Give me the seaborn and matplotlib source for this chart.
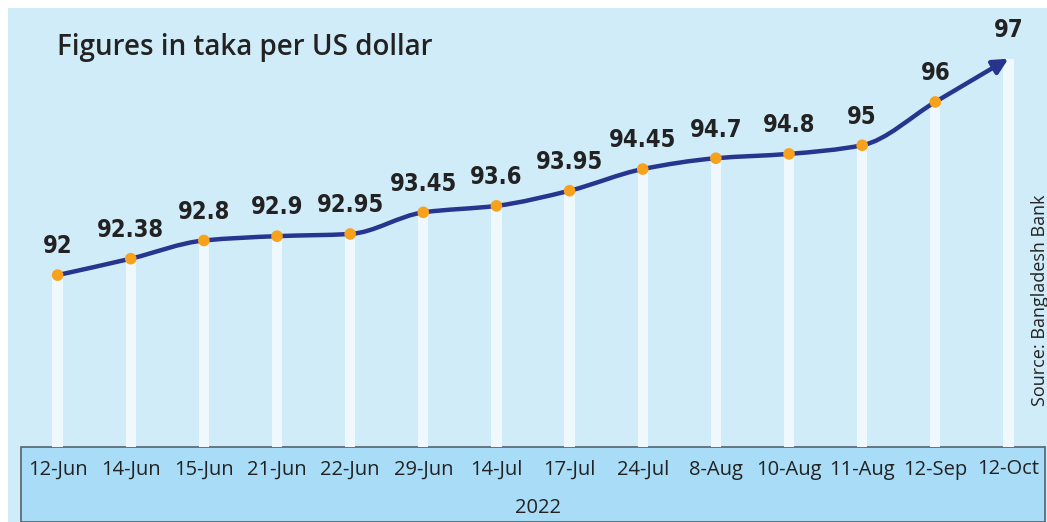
import numpy as np
import pandas as pd
import matplotlib
matplotlib.use("Agg")
import matplotlib.pyplot as plt
from matplotlib.path import Path
from matplotlib.patches import FancyArrowPatch, Rectangle
import seaborn as sns

# ---- data ----
dates = ["12-Jun", "14-Jun", "15-Jun", "21-Jun", "22-Jun", "29-Jun", "14-Jul",
         "17-Jul", "24-Jul", "8-Aug", "10-Aug", "11-Aug", "12-Sep", "12-Oct"]
rates = [92, 92.38, 92.8, 92.9, 92.95, 93.45, 93.6, 93.95, 94.45, 94.7, 94.8,
         95, 96, 97]
year_label = "2022"
title = "Figures in taka per US dollar"
source = "Source: Bangladesh Bank"

BG = "#d1ecf9"
BAND = "#a9dcf6"
BAR = "#eef8fd"
LINE = "#27358f"
DOT = "#f7a11c"
TXT = "#222222"

W, H = 1047, 522
sns.set_theme(style="white")
plt.rcParams["font.family"] = ["Open Sans", "DejaVu Sans"]

fig = plt.figure(figsize=(W / 100, H / 100), dpi=100, facecolor="white")

def fx(px):
    return px / W

def fy(py):
    return 1 - py / H

fig.patches.append(Rectangle((fx(8), 0), 1 - fx(8), fy(8), transform=fig.transFigure,
                             facecolor=BG, edgecolor="none", zorder=-2))
fig.patches.append(Rectangle((fx(21), 0), fx(1045) - fx(21), fy(447), transform=fig.transFigure,
                             facecolor=BAND, edgecolor="#55626c", linewidth=1.2, zorder=-1))

ax = fig.add_axes([fx(21), fy(447), fx(1045) - fx(21), fy(8) - fy(447)])
ax.set_facecolor("none")
ax.set_zorder(2)

df = pd.DataFrame({"date": dates, "rate": rates})

sns.barplot(data=df, x="date", y="rate", color=BAR, width=0.14, saturation=1,
            edgecolor="none", ax=ax, zorder=1)

x = np.arange(len(rates), dtype=float)
y = np.array(rates, dtype=float)
d = np.diff(y) / np.diff(x)
m = np.zeros_like(y)
m[0] = d[0]
m[-1] = d[-1]
for i in range(1, len(y) - 1):
    if d[i - 1] * d[i] <= 0:
        m[i] = 0
    else:
        m[i] = 2 / (1 / d[i - 1] + 1 / d[i])
verts = [(x[0], y[0])]
codes = [Path.MOVETO]
for i in range(len(x) - 1):
    h = x[i + 1] - x[i]
    verts += [(x[i] + h / 3, y[i] + m[i] * h / 3),
              (x[i + 1] - h / 3, y[i + 1] - m[i + 1] * h / 3),
              (x[i + 1], y[i + 1])]
    codes += [Path.CURVE4] * 3
arrow = FancyArrowPatch(path=Path(verts, codes), arrowstyle="-|>,head_length=0.6,head_width=0.3",
                        mutation_scale=15, color=LINE, linewidth=3.2,
                        shrinkA=0, shrinkB=0, zorder=3)
ax.add_patch(arrow)

sns.scatterplot(x=x[:-1], y=y[:-1], color=DOT, s=70, edgecolor="none", ax=ax, zorder=4)

for xi, yi in zip(x, y):
    ax.annotate(f"{yi:g}", (xi, yi), xytext=(0, 12), textcoords="offset points",
                ha="center", va="bottom", fontsize=17, fontweight="bold",
                family="DejaVu Sans", fontstretch="condensed", color=TXT, zorder=5)

ax.set_xlim(-0.5, len(dates) - 0.5)
ax.set_ylim(88.03, 98.17)
for s in ax.spines.values():
    s.set_visible(False)
ax.set_yticks([])
ax.set_xlabel("")
ax.set_ylabel("")
ax.set_xticks(range(len(dates)))
ax.set_xticklabels(dates, fontsize=14.5, color=TXT)
ax.tick_params(axis="x", length=0, pad=9)

fig.text(fx(57), fy(47), title, fontsize=20, fontweight="semibold", color=TXT,
         ha="left", va="center")
fig.text(fx(538), fy(508), year_label, fontsize=14.5, color=TXT, ha="center", va="center")
fig.text(fx(1040), fy(300), source, fontsize=13, color=TXT, ha="center", va="center",
         rotation=90)

fig.savefig("out.png", dpi=100, facecolor="white")
